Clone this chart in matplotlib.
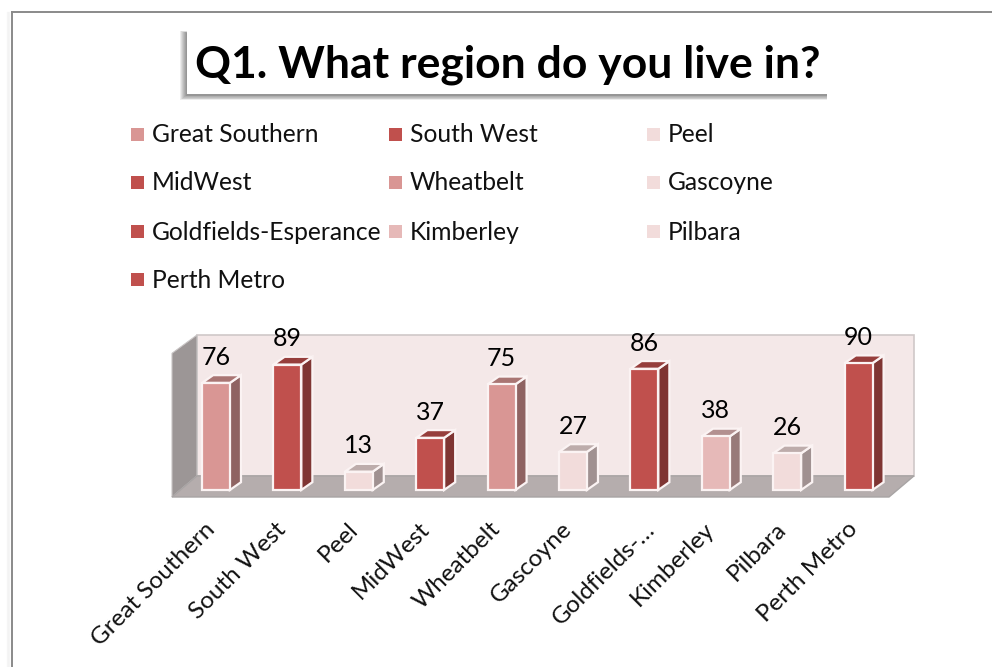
import matplotlib
matplotlib.use("Agg")
import matplotlib.pyplot as plt
from matplotlib.patches import Polygon, Rectangle
from matplotlib.colors import to_rgb
from matplotlib.transforms import ScaledTranslation

plt.rcParams['font.family'] = ['Lato', 'DejaVu Sans']

# survey responses per region
regions = ['Great Southern', 'South West', 'Peel', 'MidWest', 'Wheatbelt',
           'Gascoyne', 'Goldfields-Esperance', 'Kimberley', 'Pilbara', 'Perth Metro']
tick_labels = ['Great Southern', 'South West', 'Peel', 'MidWest', 'Wheatbelt',
               'Gascoyne', 'Goldfields-…', 'Kimberley', 'Pilbara', 'Perth Metro']
responses = [76, 89, 13, 37, 75, 27, 86, 38, 26, 90]
bar_colors = ['#D99694', '#C0504D', '#F2DCDB', '#C0504D', '#D99694',
              '#F2DCDB', '#C0504D', '#E6B9B8', '#F2DCDB', '#C0504D']

W, H = 992, 667
fig = plt.figure(figsize=(W / 100, H / 100), dpi=100, facecolor='white')

# overlay in pixel units for the frame, title box and legend
page = fig.add_axes([0, 0, 1, 1], zorder=3)
page.set_xlim(0, W)
page.set_ylim(H, 0)
page.axis('off')
page.patch.set_alpha(0)

# chart frame, open at the right and bottom edges
page.plot([12, 12], [H, 12], color='#8A8A8A', lw=1.4)
page.plot([12, W], [12, 12], color='#8A8A8A', lw=1.4)
for i in range(3):
    page.plot([9 - i, 9 - i], [12, H], color='black', alpha=0.03, lw=1)

# title box with a soft drop shadow towards the lower left
for i in range(7, 0, -1):
    page.add_patch(Rectangle((187 - i, 33 - i * 0.3), 640 + i, 62 + i, fc='black', ec='none', alpha=0.07))
page.add_patch(Rectangle((187, 28), 643, 66, fc='white', ec='none'))
page.text(508, 64.5, 'Q1. What region do you live in?', fontsize=32, fontweight='bold',
          ha='center', va='center', color='black')

# legend, filled row by row
legend_x = [131, 389, 647]
legend_y = [134, 182, 231, 279]
for i, (name, color) in enumerate(zip(regions, bar_colors)):
    x = legend_x[i % 3]
    y = legend_y[i // 3]
    page.add_patch(Rectangle((x, y - 6.5), 13, 13, fc=color, ec='none'))
    page.text(x + 21, y + 1, name, fontsize=17.7, ha='left', va='center', color='#111111')

# chart axes: one x unit per category, y in responses
ax = fig.add_axes([172 / W, 1 - 497 / H, (914 - 172) / W, (497 - 335) / H], zorder=2)
ax.set_xlim(-0.616, 9.776)
ax.set_ylim(-5, 110)
ax.patch.set_alpha(0)
for s in ax.spines.values():
    s.set_visible(False)

# box depth of the plot area and the bars, in data units
wall_dx, wall_dy = 0.35, 15
bar_dx, bar_dy = 0.155, 5.5
x0, x1 = -0.616, 9.776 - wall_dx
y0, y1 = -5, 97

ax.add_patch(Polygon([(x0 + wall_dx, y0 + wall_dy), (x1 + wall_dx, y0 + wall_dy),
                      (x1 + wall_dx, y1 + wall_dy - 2), (x0 + wall_dx, y1 + wall_dy - 2)],
                     fc='#F4E8E8', ec='#CFC8C8', lw=1.2, zorder=1, clip_on=False))
ax.add_patch(Polygon([(x0, y0), (x0 + wall_dx, y0 + wall_dy),
                      (x0 + wall_dx, y1 + wall_dy - 2), (x0, y1)],
                     fc='#9C9696', ec='#C8C4C4', lw=0.8, zorder=2, clip_on=False))
ax.add_patch(Polygon([(x0, y0), (x1, y0), (x1 + wall_dx, y0 + wall_dy), (x0 + wall_dx, y0 + wall_dy)],
                     fc='#B5ADAD', ec='#A8A4A4', lw=1, zorder=2, clip_on=False))


def shade(color, f):
    return tuple(c * f for c in to_rgb(color))


positions = list(range(len(responses)))
bar_w = 0.39
ax.bar(positions, responses, width=bar_w, color=bar_colors, edgecolor='#FBF3F3',
       linewidth=1.6, zorder=5)

for x, v, c in zip(positions, responses, bar_colors):
    right = x + bar_w / 2
    left = x - bar_w / 2
    ax.add_patch(Polygon([(right, 0), (right + bar_dx, bar_dy), (right + bar_dx, v + bar_dy), (right, v)],
                         fc=shade(c, 0.66), ec='#FBF3F3', lw=1.6, zorder=4))
    ax.add_patch(Polygon([(left, v), (right, v), (right + bar_dx, v + bar_dy), (left + bar_dx, v + bar_dy)],
                         fc=shade(c, 0.78), ec='#FBF3F3', lw=1.6, zorder=4))
    ax.annotate(str(v), (x, v), xytext=(0, 18.5), textcoords='offset points',
                ha='center', va='center', fontsize=18, color='black', zorder=6,
                annotation_clip=False)

ax.set_yticks([])
ax.set_xticks(positions)
ax.set_xticklabels(tick_labels, rotation=45, ha='right', rotation_mode='anchor',
                   fontsize=17.5, color='#111111')
ax.tick_params(axis='x', length=0, pad=14)
# slide the rotated labels left so their ends sit under the bars;
# the ellipsis label has a wide trailing gap, so it moves less
for label in ax.get_xticklabels():
    dx = 0 if label.get_text().endswith('…') else -12
    label.set_transform(label.get_transform() + ScaledTranslation(dx / 100, -2 / 100, fig.dpi_scale_trans))

fig.savefig('out.png', dpi=100)
